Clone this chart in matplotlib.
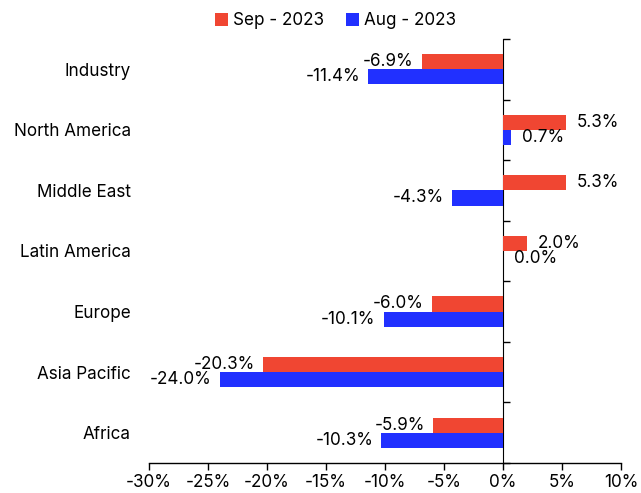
import matplotlib
matplotlib.use("Agg")
import matplotlib.pyplot as plt
import numpy as np
from matplotlib.ticker import FuncFormatter

plt.rcParams['font.family'] = ['Inter', 'DejaVu Sans']

# Data (percent change)
REGIONS = ["Industry", "North America", "Middle East", "Latin America",
           "Europe", "Asia Pacific", "Africa"]
SEP_2023 = [-6.9, 5.3, 5.3, 2.0, -6.0, -20.3, -5.9]
AUG_2023 = [-11.4, 0.7, -4.3, 0.0, -10.1, -24.0, -10.3]
SERIES_LABELS = ["Sep - 2023", "Aug - 2023"]

RED = "#F04632"
BLUE = "#2130FF"

XMIN, XMAX = -30, 10
FONT_SIZE = 12.3


def add_value_labels(ax, bars, values):
    """Put a percent label just outside the end of each bar."""
    for bar, val in zip(bars, values):
        y = bar.get_y() + bar.get_height() / 2
        if val < 0:
            ax.annotate(f"{val:.1f}%", xy=(val, y), xytext=(-6, 0),
                        textcoords="offset points", ha="right", va="center",
                        fontsize=FONT_SIZE)
        else:
            ax.annotate(f"{val:.1f}%", xy=(val, y), xytext=(8, 0),
                        textcoords="offset points", ha="left", va="center",
                        fontsize=FONT_SIZE)


def main():
    fig = plt.figure(figsize=(6.41, 4.93), dpi=100)
    ax = fig.add_axes([0.2325, 0.0609, 0.7363, 0.86])

    y = np.arange(len(REGIONS))
    h = 0.25
    bars_sep = ax.barh(y - h / 2, SEP_2023, height=h, color=RED, label=SERIES_LABELS[0])
    bars_aug = ax.barh(y + h / 2, AUG_2023, height=h, color=BLUE, label=SERIES_LABELS[1])

    add_value_labels(ax, bars_sep, SEP_2023)
    add_value_labels(ax, bars_aug, AUG_2023)

    ax.set_xlim(XMIN, XMAX)
    ax.set_ylim(len(REGIONS) - 0.5, -0.5)

    ax.set_xticks(np.arange(XMIN, XMAX + 1, 5))
    ax.xaxis.set_major_formatter(FuncFormatter(lambda v, _: f"{v:.0f}%"))
    ax.tick_params(axis="x", length=5, width=1, labelsize=FONT_SIZE, pad=3)

    ax.set_yticks(y)
    ax.set_yticklabels(REGIONS, fontsize=FONT_SIZE)
    ax.tick_params(axis="y", length=0, pad=13)

    for side in ["top", "right", "left"]:
        ax.spines[side].set_visible(False)
    ax.spines["bottom"].set_linewidth(1)

    # zero line with tick marks between categories
    zero_loc = (0 - XMIN) / (XMAX - XMIN)
    sec = ax.secondary_yaxis(zero_loc)
    sec.set_yticks(np.arange(-0.5, len(REGIONS) + 0.5, 1))
    sec.set_yticklabels([])
    sec.tick_params(length=5, width=1)
    sec.spines["left"].set_linewidth(1)

    fig.legend(handles=[bars_sep, bars_aug], labels=SERIES_LABELS,
               loc="center", bbox_to_anchor=(0.523, 0.958), ncol=2,
               frameon=False, fontsize=FONT_SIZE, handlelength=0.75,
               handleheight=0.75, handletextpad=0.3, columnspacing=1.3)

    fig.savefig("out.png", dpi=100)


if __name__ == "__main__":
    main()
